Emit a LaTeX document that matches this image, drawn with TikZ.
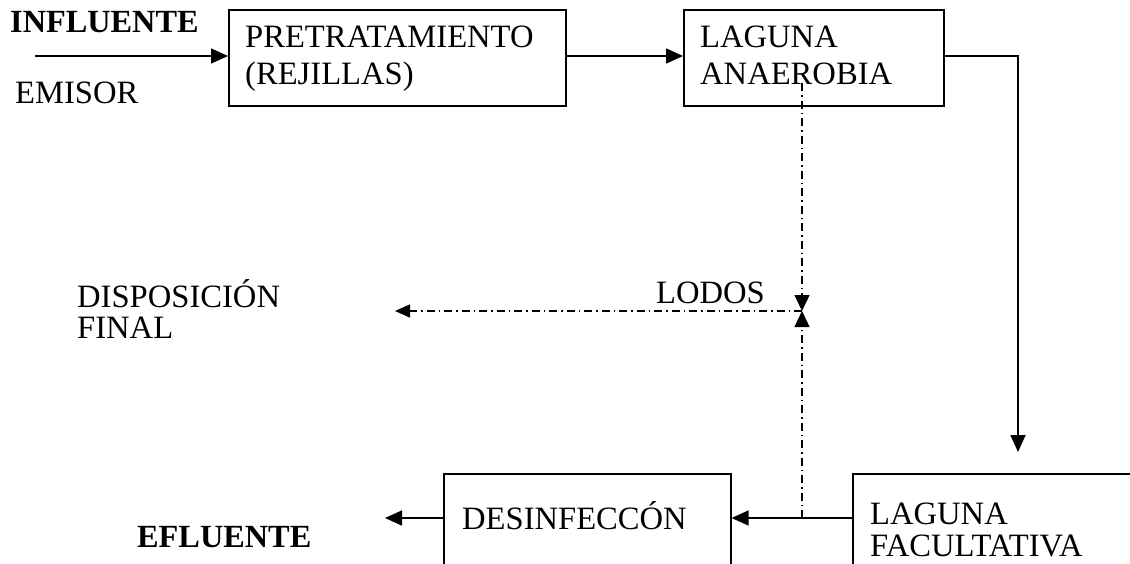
\documentclass[tikz,border=0pt]{standalone}
\usepackage{fontspec}
\setmainfont{Liberation Serif}
\usetikzlibrary{arrows.meta}
\begin{document}
\begin{tikzpicture}[x=1pt,y=-1pt,
  box/.style={draw,line width=1.6pt,inner sep=0pt},
  lbl/.style={anchor=base west,inner sep=0pt,font=\fontsize{32.6}{36}\selectfont},
  blbl/.style={lbl,font=\fontsize{32.3}{36}\selectfont\bfseries},
  flow/.style={line width=1.6pt,-{Triangle[length=17pt,width=15pt]}},
  sludge/.style={line width=1.3pt,dash pattern=on 8pt off 4pt on 1.5pt off 4pt,-{Triangle[length=16pt,width=15pt]}}]
\useasboundingbox (0,0) rectangle (1130,563);
\clip (0,0) rectangle (1130,563);
% boxes
\node[box,minimum width=337pt,minimum height=96pt,anchor=north west] (pre) at (228,9) {};
\node[box,minimum width=260pt,minimum height=96pt,anchor=north west] (ana) at (683,9) {};
\node[box,minimum width=287pt,minimum height=140pt,anchor=north west] (des) at (443,473) {};
\node[box,minimum width=320pt,minimum height=140pt,anchor=north west] (fac) at (852,473) {};
% texts
\node[blbl] (inf) at (10,32) {INFLUENTE};
\node[lbl] (emi) at (15,103) {EMISOR};
\node[lbl] (pret1) at (245,47) {PRETRATAMIENTO};
\node[lbl] (pret2) at (245,84) {(REJILLAS)};
\node[lbl] (ana1) at (700,47) {LAGUNA};
\node[lbl] (ana2) at (700,84) {ANAEROBIA};
\node[lbl] (dis1) at (77,307) {DISPOSICIÓN};
\node[lbl] (dis2) at (77,338) {FINAL};
\node[lbl] (lod) at (656,303) {LODOS};
\node[lbl] (des1) at (462,529) {DESINFECCÓN};
\node[lbl] (fac1) at (870,524) {LAGUNA};
\node[lbl] (fac2) at (870,556) {FACULTATIVA};
\node[blbl] (efl) at (137,547) {EFLUENTE};
% coordinates
\coordinate (in0) at (35,56);
\coordinate (turn) at (1018,56);
\coordinate (facin) at (1018,452);
\coordinate (sl0) at (802,83);
\coordinate (slj) at (802,311);
\coordinate (slb) at (802,518);
\coordinate (disp) at (395,311);
\coordinate (eflt) at (385,518);
% connectors
\draw[flow] (in0) -- (pre.west |- in0);
\draw[flow] (pre.east |- in0) -- (ana.west |- in0);
\draw[flow] (ana.east |- turn) -- (turn) -- (facin);
\draw[flow] (fac.west |- slb) -- (des.east |- slb);
\draw[flow] (des.west |- eflt) -- (eflt);
\draw[sludge] (sl0) -- (slj);
\draw[sludge] (slb) -- (slj);
\draw[sludge,-{Triangle[length=15pt,width=13pt]}] (slj) -- (disp);
\end{tikzpicture}
\end{document}
